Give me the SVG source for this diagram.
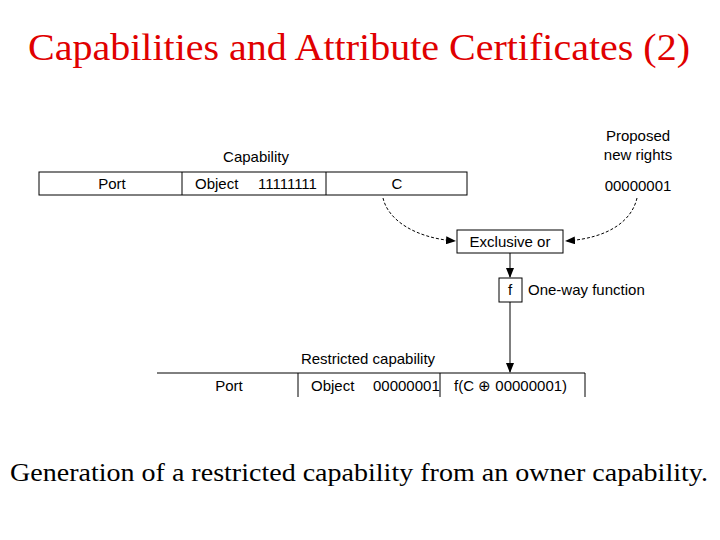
<svg xmlns="http://www.w3.org/2000/svg" width="720" height="540" viewBox="0 0 720 540">
<style>
.t{font-family:"Liberation Sans",Arial,sans-serif;font-size:15px;fill:#000}
.b{fill:#fff;stroke:#000;stroke-width:1}
.l{fill:none;stroke:#000;stroke-width:1}
.d{fill:none;stroke:#000;stroke-width:1;stroke-dasharray:3,2}
</style>
<defs><marker id="a" markerWidth="10" markerHeight="8" refX="9" refY="4" orient="auto" markerUnits="userSpaceOnUse"><path d="M0,0L10,4L0,8z" fill="#000"/></marker></defs>
<rect width="720" height="540" fill="#fff"/>
<text x="28" y="60" textLength="662" lengthAdjust="spacingAndGlyphs" font-family="Liberation Serif,serif" font-size="38" fill="#e00000">Capabilities and Attribute Certificates (2)</text>
<g id="capability">
<text class="t" x="256" y="162" text-anchor="middle">Capability</text>
<rect class="b" x="39" y="172" width="428" height="23"/>
<line class="l" x1="182" y1="172" x2="182" y2="195"/>
<line class="l" x1="326" y1="172" x2="326" y2="195"/>
<text class="t" x="112" y="189" text-anchor="middle">Port</text>
<text class="t" x="195" y="189">Object</text>
<text class="t" x="258" y="189">11111111</text>
<text class="t" x="397" y="189" text-anchor="middle">C</text>
</g>
<g id="proposed">
<text class="t" x="638" y="141" text-anchor="middle">Proposed</text>
<text class="t" x="638" y="160" text-anchor="middle">new rights</text>
<text class="t" x="638" y="191" text-anchor="middle">00000001</text>
</g>
<g id="xor"><rect class="b" x="457" y="230" width="106" height="23"/><text class="t" x="510" y="247" text-anchor="middle">Exclusive or</text></g>
<g id="f"><rect class="b" x="499" y="278" width="23" height="24"/><text class="t" x="510" y="295" text-anchor="middle">f</text><text class="t" x="528" y="295">One-way function</text></g>
<g id="restricted">
<text class="t" x="368" y="364" text-anchor="middle">Restricted capability</text>
<path class="l" d="M157,373H585V397M298,373V397M440,373V397"/>
<text class="t" x="229" y="391" text-anchor="middle">Port</text>
<text class="t" x="311" y="391">Object</text>
<text class="t" x="373" y="391">00000001</text>
<text class="t" x="454" y="391">f(C ⊕ 00000001)</text>
</g>
<g id="connectors">
<path class="d" d="M383,198C388,220 415,238 455,241" marker-end="url(#a)"/>
<path class="d" d="M637,198C632,220 610,238 566,241" marker-end="url(#a)"/>
<line class="l" x1="510" y1="253" x2="510" y2="277" marker-end="url(#a)"/>
<line class="l" x1="510" y1="302" x2="510" y2="372" marker-end="url(#a)"/>
</g>
<text x="10" y="481" textLength="698" lengthAdjust="spacingAndGlyphs" font-family="Liberation Serif,serif" font-size="25" fill="#000">Generation of a restricted capability from an owner capability.</text>
</svg>
